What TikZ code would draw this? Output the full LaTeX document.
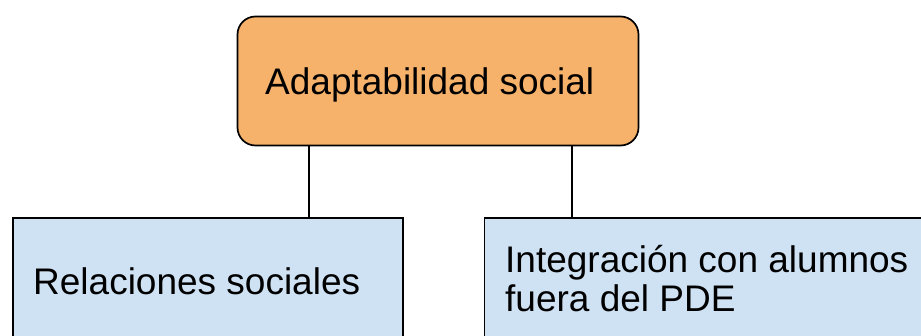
\documentclass[tikz,border=0pt]{standalone}
\usepackage{fontspec}
\setmainfont{Liberation Sans}
\definecolor{orangebox}{HTML}{F6B26B}
\definecolor{bluebox}{HTML}{CFE2F3}
\begin{document}
\begin{tikzpicture}[x=1pt,y=-1pt,
  boxline/.style={draw=black,line width=1.7pt},
  topbox/.style={boxline,fill=orangebox,rounded corners=18pt},
  subbox/.style={boxline,fill=bluebox},
  lbl/.style={anchor=base west,inner sep=0pt,font=\fontsize{37}{39}\selectfont,align=left},
  link/.style={draw=black,line width=1.4pt}]
\useasboundingbox (0,0) rectangle (921,336);
\clip (0,0) rectangle (921,336);
\node[topbox,minimum width=401pt,minimum height=129pt,inner sep=0pt] (top) at (438,81) {};
\node[subbox,minimum width=390pt,minimum height=150pt,inner sep=0pt,anchor=north west] (left) at (12,217) {};
\node[subbox,minimum width=460pt,minimum height=150pt,inner sep=0pt,anchor=north west] (right) at (483.5,217) {};
\node[lbl] (ttop) at (265,95) {Adaptabilidad social};
\node[lbl] (tleft) at (33,295) {Relaciones sociales};
\node[lbl] (tright) at (505,312) {Integración con alumnos\\fuera del PDE};
\coordinate (cl) at (309,217);
\coordinate (cr) at (572,217);
\draw[link] (cl |- top.south) -- (cl);
\draw[link] (cr |- top.south) -- (cr);
\end{tikzpicture}
\end{document}
